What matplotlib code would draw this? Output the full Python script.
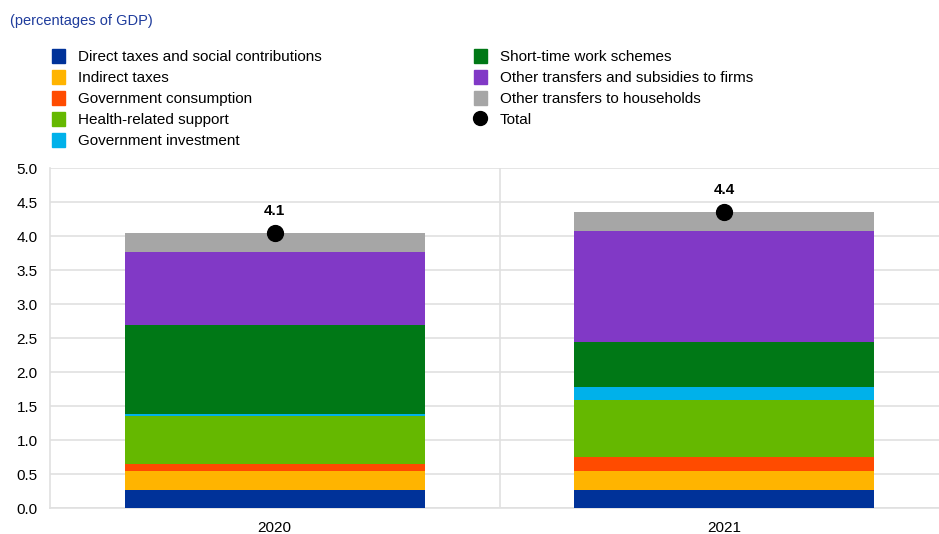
import matplotlib.pyplot as plt
from matplotlib.patches import Patch
from matplotlib.lines import Line2D

plt.rcParams['font.family'] = ['Liberation Sans', 'DejaVu Sans']

years = ["2020", "2021"]
labels = ["Direct taxes and social contributions", "Indirect taxes",
          "Government consumption", "Health-related support",
          "Government investment", "Short-time work schemes",
          "Other transfers and subsidies to firms", "Other transfers to households"]
colors = ["#003299", "#FFB400", "#FF4B00", "#65B800",
          "#00B1EA", "#007816", "#8139C6", "#A6A6A6"]

direct_taxes = [0.27, 0.27]
indirect_taxes = [0.28, 0.27]
gov_consumption = [0.09, 0.21]
health_support = [0.71, 0.84]
gov_investment = [0.03, 0.19]
short_time_work = [1.31, 0.66]
transfers_firms = [1.08, 1.63]
transfers_households = [0.28, 0.28]
total = [4.05, 4.35]
total_labels = ["4.1", "4.4"]

series = [direct_taxes, indirect_taxes, gov_consumption, health_support,
          gov_investment, short_time_work, transfers_firms, transfers_households]

fig = plt.figure(figsize=(9.39, 5.34), dpi=100)
ax = fig.add_axes([50 / 939, 1 - 508 / 534, 899 / 939, 340 / 534])

x = [0, 1]
bottom = [0, 0]
for vals, c in zip(series, colors):
    ax.bar(x, vals, width=0.668, bottom=bottom, color=c, zorder=3)
    bottom = [b + v for b, v in zip(bottom, vals)]

ax.scatter(x, total, s=130, color="black", zorder=4)
for xi, t, lab in zip(x, total, total_labels):
    ax.text(xi, t + 0.22, lab, ha="center", va="bottom", fontsize=11,
            fontweight="bold", zorder=5)

ax.set_ylim(0, 5)
ax.set_xlim(-0.5, 1.5)
ax.set_yticks([i * 0.5 for i in range(11)])
ax.set_yticklabels([f"{i * 0.5:.1f}" for i in range(11)])
ax.set_xticks(x)
ax.set_xticklabels(years)
ax.tick_params(axis="y", length=0, labelsize=11, pad=9)
ax.tick_params(axis="x", length=0, labelsize=11, pad=9)
ax.yaxis.grid(True, color="#E0E0E0", linewidth=1.2, zorder=0)
ax.axvline(0.5, color="#E0E0E0", linewidth=1.2, zorder=0)
for s in ["top", "right"]:
    ax.spines[s].set_visible(False)
ax.spines["left"].set_color("#E0E0E0")
ax.spines["left"].set_linewidth(1.2)
ax.spines["bottom"].set_color("#E0E0E0")
ax.spines["bottom"].set_linewidth(1.2)

fig.text(10 / 939, 1 - 21 / 534, "(percentages of GDP)", color="#1F3C9C",
         fontsize=10.5, va="center")

handles = [Patch(color=c) for c in colors]
handles.append(Line2D([], [], marker="o", color="black", linestyle="",
                      markersize=10))
leg1 = fig.legend(handles[:5], labels[:5], loc="upper left",
                  bbox_to_anchor=(44 / 939, 1 - 41 / 534), frameon=False,
                  fontsize=11, handlelength=0.85, handleheight=1.05,
                  handletextpad=0.85, labelspacing=0.38, borderpad=0)
leg2 = fig.legend(handles[5:], labels[5:] + ["Total"], loc="upper left",
                  bbox_to_anchor=(466 / 939, 1 - 41 / 534), frameon=False,
                  fontsize=11, handlelength=0.85, handleheight=1.05,
                  handletextpad=0.85, labelspacing=0.38, borderpad=0)

fig.savefig("out.png", dpi=100)
